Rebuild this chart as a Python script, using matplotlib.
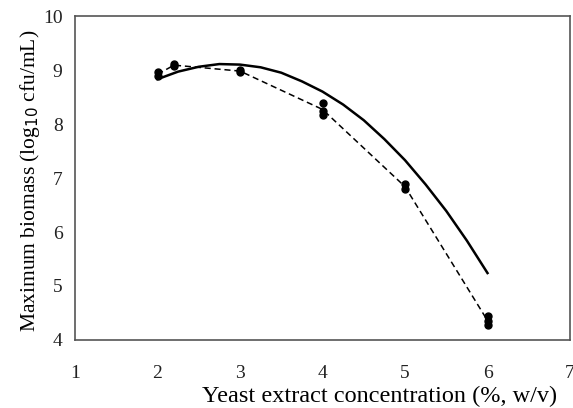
import matplotlib.pyplot as plt

# Measured points (replicates)
x_pts = [2, 2, 2.2, 2.2, 3, 3, 4, 4, 4, 5, 5, 6, 6, 6]
y_pts = [8.88, 8.97, 9.07, 9.11, 8.96, 9.00, 8.17, 8.25, 8.38, 6.80, 6.88, 4.27, 4.36, 4.45]

# Mean line (dashed)
x_mean = [2, 2.2, 3, 4, 5, 6]
y_mean = [8.92, 9.09, 8.98, 8.27, 6.84, 4.36]

# Fitted curve (solid)
x_fit = [2, 2.25, 2.5, 2.75, 3, 3.25, 3.5, 3.75, 4, 4.25, 4.5, 4.75, 5, 5.25, 5.5, 5.75, 6]
y_fit = [8.83, 8.97, 9.06, 9.11, 9.10, 9.05, 8.95, 8.79, 8.60, 8.36, 8.07, 7.72, 7.33, 6.88, 6.39, 5.84, 5.24]

plt.rcParams['font.family'] = ['Liberation Serif', 'DejaVu Serif']

fig = plt.figure(figsize=(5.73, 4.08), dpi=100)
ax = fig.add_axes([75 / 573, 68 / 408, 495 / 573, 324 / 408])

ax.plot(x_fit, y_fit, color='black', lw=1.8)
ax.plot(x_mean, y_mean, color='black', lw=1.1, ls=(0, (4, 2.5)))
ax.plot(x_pts, y_pts, 'o', color='black', ms=5, mec='black')

ax.set_xlim(1, 7)
ax.set_ylim(4, 10)
ax.set_xticks(range(1, 8))
ax.set_yticks(range(4, 11))
ax.tick_params(length=0, labelsize=14, colors='#222222')
ax.tick_params(axis='x', pad=18)
ax.tick_params(axis='y', pad=9)
for s in ax.spines.values():
    s.set_color('#555555')
    s.set_linewidth(1.2)

ax.set_xlabel('Yeast extract concentration (%, w/v)', fontsize=17.5, va='center')
ax.xaxis.set_label_coords(0.616, -0.173)
ax.set_ylabel('Maximum biomass (log$_{10}$ cfu/mL)', fontsize=15.5, va='center')
ax.yaxis.set_label_coords(-0.091, 0.49)

fig.savefig('out.png', dpi=100)
